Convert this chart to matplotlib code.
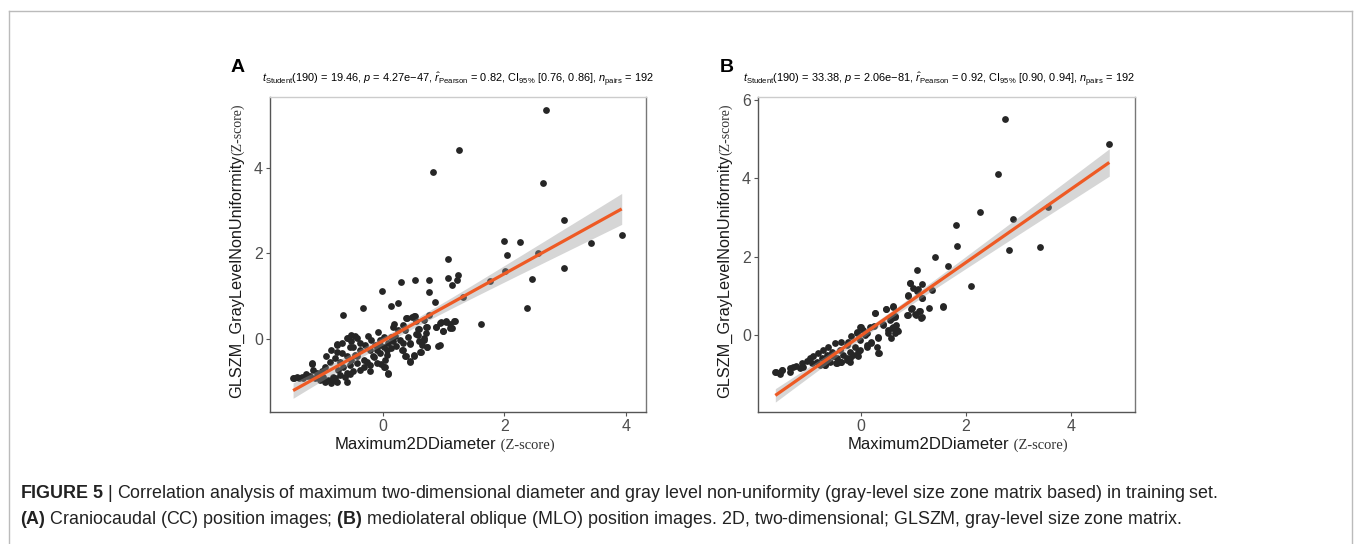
"""Figure 5: correlation of Maximum2DDiameter and GLSZM GrayLevelNonUniformity
(training set), CC panel (A) and MLO panel (B), with a linear fit + 95% band.
"""

import matplotlib

matplotlib.use("Agg")
import matplotlib.pyplot as plt
import numpy as np

plt.rcParams["font.family"] = ["Liberation Sans", "DejaVu Sans"]
plt.rcParams["mathtext.fontset"] = "custom"
plt.rcParams["mathtext.rm"] = "Liberation Sans"
plt.rcParams["mathtext.it"] = "Liberation Sans:italic"
plt.rcParams["mathtext.bf"] = "Liberation Sans:bold"

W, H = 1357, 544

# (x, y) z-scores, panel A (CC)
cc_points = [
    (2.69, 5.36), (1.25, 4.42), (0.82, 3.91), (2.64, 3.65), (2.98, 2.78),
    (3.93, 2.43), (3.42, 2.24), (1.99, 2.28), (2.25, 2.27), (2.04, 1.97),
    (2.55, 2.02), (2.98, 1.66), (2.01, 1.60), (1.07, 1.88), (1.23, 1.50),
    (1.07, 1.42), (1.22, 1.39), (1.13, 1.25), (1.77, 1.35), (2.45, 1.40),
    (2.37, 0.73), (1.62, 0.35), (1.31, 0.99), (-0.01, 1.13), (0.30, 1.32),
    (0.53, 1.38), (0.75, 1.39), (0.76, 1.10), (0.86, 0.87), (0.24, 0.85),
    (0.13, 0.77), (-0.33, 0.72), (-0.65, 0.57), (0.76, 0.57), (0.51, 0.53),
    (0.38, 0.48), (0.68, 0.44), (0.18, 0.35), (0.16, 0.27), (0.54, 0.42),
    (0.57, 0.24), (0.70, 0.27), (0.88, 0.28), (0.96, 0.39), (1.04, 0.39),
    (0.99, 0.19), (1.11, 0.26), (1.17, 0.43), (0.91, -0.16), (0.73, -0.20),
    (0.63, -0.31), (0.51, -0.39), (0.45, -0.54), (0.37, -0.40), (0.33, -0.27),
    (0.45, -0.13), (0.68, 0.01), (0.58, 0.09), (0.59, -0.05), (0.09, -0.81),
    (0.04, -0.66), (-0.03, -0.58), (-0.14, -0.43), (-0.46, 0.06), (-0.58, 0.01),
    (-0.52, -0.05), (-0.76, -0.13), (-1.17, -0.58), (-1.46, -0.92), (-1.39, -0.92),
    (-1.32, -0.91), (-1.25, -0.87),
    (0.94, 0.37), (1.03, 0.43), (1.10, 0.34), (1.19, 0.43), (1.13, 0.25),
    (0.99, 0.19), (0.87, 0.29), (0.72, 0.27), (0.70, 0.13), (0.60, 0.24),
    (0.55, 0.12), (0.67, -0.02), (0.64, -0.14), (0.73, -0.18), (0.94, -0.14),
    (0.61, -0.30), (0.51, -0.37), (0.44, -0.51), (0.38, -0.41), (0.31, -0.26),
    (0.44, -0.10), (0.33, -0.10), (0.22, -0.16), (0.17, -0.06), (0.20, 0.07),
    (0.25, 0.21), (0.33, 0.33), (0.39, 0.48), (0.47, 0.52), (0.53, 0.54),
    (0.09, -0.80), (0.01, -0.65), (-0.10, -0.57), (0.03, -0.49), (0.06, -0.37),
    (-0.05, -0.34), (-0.16, -0.41), (-0.21, -0.61), (-0.27, -0.53), (-0.38, -0.73),
    (-0.49, -0.76), (-0.54, -0.82), (-0.63, -0.88), (-0.71, -0.84), (-0.79, -0.92),
    (-0.82, -0.97), (-0.74, -0.73), (-0.65, -0.65), (-0.54, -0.61), (-0.43, -0.57),
    (-0.32, -0.49), (-0.21, -0.26), (-0.13, -0.14), (-0.05, -0.02), (0.01, 0.05),
    (0.09, -0.10), (0.14, -0.22), (-0.19, -0.02), (-0.30, -0.14), (-0.38, -0.26),
    (-0.46, -0.37), (-0.52, -0.49), (-0.60, -0.41), (-0.68, -0.34), (-0.76, -0.30),
    (-0.79, -0.45), (-0.87, -0.53), (-0.93, -0.40), (-0.85, -0.26), (-0.76, -0.14),
    (-0.68, -0.10), (-0.60, 0.02), (-0.52, 0.09), (-0.43, 0.02), (-0.95, -0.65),
    (-1.01, -0.76), (-0.98, -0.88), (-1.09, -0.80), (-1.15, -0.73), (-1.17, -0.57),
    (-1.26, -0.82), (-1.34, -0.88), (-1.42, -0.90), (-1.48, -0.92), (-0.90, -0.96),
    (-0.76, -1.00), (-0.60, -1.00), (-0.85, -1.02), (-1.04, -0.96), (-0.95, -1.00),
    (-1.20, -0.87), (-1.12, -0.92), (-0.38, -0.10), (-0.24, 0.07), (-0.08, 0.17),
    (-0.54, -0.18), (-0.82, -0.88), (-0.49, -0.18), (-0.71, -0.53), (-0.43, -0.41),
    (-0.60, -0.80), (-0.32, -0.65), (-0.21, -0.76), (-0.10, -0.26), (0.01, -0.18),
    (0.14, 0.05), (0.28, -0.02), (0.36, 0.21), (0.42, 0.04), (0.06, -0.27),
    (-0.05, -0.14),
]

# (x, y) z-scores, panel B (MLO)
mlo_points = [
    (2.74, 5.53), (4.73, 4.89), (2.61, 4.10), (2.27, 3.13), (2.89, 2.96),
    (3.57, 3.26), (1.81, 2.81), (1.83, 2.26), (2.82, 2.16), (3.41, 2.25),
    (1.42, 2.00), (1.66, 1.77), (2.10, 1.25), (1.06, 1.67), (1.57, 0.72),
    (1.29, 0.70), (0.94, 1.32), (1.17, 1.29), (1.08, 1.17), (1.35, 1.15),
    (0.89, 1.00), (0.96, 0.66), (1.15, 0.44), (1.04, 0.50), (1.11, 0.60),
    (0.90, 0.50), (1.17, 0.94), (0.61, 0.74), (0.47, 0.67), (0.27, 0.55),
    (0.65, 0.49), (0.59, 0.43), (0.43, 0.27), (0.66, 0.25), (0.60, 0.17),
    (0.70, 0.11), (0.52, 0.04), (0.57, -0.09), (0.32, -0.06), (0.20, -0.19),
    (0.11, -0.30), (0.34, -0.47), (0.24, 0.24), (0.00, 0.21), (-0.08, 0.08),
    (0.07, 0.00), (-0.06, -0.43), (-0.20, -0.60), (-0.05, -0.55), (-1.63, -0.96),
    (-1.51, -0.89), (-1.36, -0.94), (-1.55, -1.00), (-0.69, -0.77), (-0.48, -0.72),
    (-0.37, -0.68), (-0.27, -0.64),
    (0.93, 1.32), (1.00, 1.19), (1.06, 1.12), (0.90, 1.02), (1.17, 0.94),
    (1.56, 0.74), (0.97, 0.68), (0.87, 0.51), (1.03, 0.54), (1.16, 0.45),
    (1.12, 0.61), (0.27, 0.55), (0.48, 0.66), (0.62, 0.72), (0.65, 0.47),
    (0.55, 0.38), (0.43, 0.26), (0.62, 0.21), (0.68, 0.13), (0.65, 0.04),
    (0.52, 0.13), (0.33, -0.09), (0.20, -0.21), (0.30, -0.30), (0.11, -0.26),
    (0.33, -0.47), (-0.02, 0.21), (0.04, 0.13), (-0.08, 0.04), (0.17, 0.21),
    (0.11, 0.04), (-0.18, -0.04), (-0.24, -0.17), (-0.02, -0.13), (-0.11, -0.30),
    (-0.21, -0.43), (-0.34, -0.51), (-0.40, -0.38), (-0.46, -0.60), (-0.45, -0.72),
    (-0.37, -0.68), (-0.56, -0.43), (-0.65, -0.51), (-0.69, -0.77), (-0.59, -0.68),
    (-0.27, -0.26), (-0.37, -0.17), (-0.50, -0.21), (-0.62, -0.30), (-0.72, -0.38),
    (-0.81, -0.47), (-0.91, -0.54), (-0.97, -0.60), (-1.03, -0.66), (-1.13, -0.72),
    (-1.23, -0.79), (-1.29, -0.83), (-1.35, -0.85), (-1.51, -0.89), (-1.61, -0.95),
    (-0.75, -0.60), (-0.84, -0.68), (-0.94, -0.72), (-1.10, -0.81), (-1.16, -0.85),
    (-0.78, -0.77), (-0.65, -0.64), (-0.53, -0.55), (-0.27, -0.60), (-0.15, -0.51),
    (-0.02, -0.38), (-0.21, -0.68),
]

TICKS_A_X = [0, 2, 4]
TICKS_A_Y = [0, 2, 4]
TICKS_B_X = [0, 2, 4]
TICKS_B_Y = [0, 2, 4, 6]

SUB_A = (r"$t_{\mathrm{Student}}$(190) = 19.46, $p$ = 4.27e−47, "
         r"$\hat{r}_{\mathrm{Pearson}}$ = 0.82, CI$_{95\%}$ [0.76, 0.86], "
         r"$n_{\mathrm{pairs}}$ = 192")
SUB_B = (r"$t_{\mathrm{Student}}$(190) = 33.38, $p$ = 2.06e−81, "
         r"$\hat{r}_{\mathrm{Pearson}}$ = 0.92, CI$_{95\%}$ [0.90, 0.94], "
         r"$n_{\mathrm{pairs}}$ = 192")

CAPTION_1 = (r"$\mathbf{FIGURE\ 5}$ | Correlation analysis of maximum two-dimensional "
             "diameter and gray level non-uniformity (gray-level size zone matrix "
             "based) in training set.")
CAPTION_2 = (r"$\mathbf{(A)}$ Craniocaudal (CC) position images; $\mathbf{(B)}$ "
             "mediolateral oblique (MLO) position images. 2D, two-dimensional; "
             "GLSZM, gray-level size zone matrix.")


def fx(px):
    return px / W


def fy(py):
    return 1 - py / H


def fit_band(x, y, t=1.97):
    slope, intercept = np.polyfit(x, y, 1)
    xs = np.linspace(x.min(), x.max(), 100)
    yhat = intercept + slope * xs
    resid = y - (intercept + slope * x)
    n = len(x)
    s = np.sqrt(np.sum(resid ** 2) / (n - 2))
    sxx = np.sum((x - x.mean()) ** 2)
    se = s * np.sqrt(1.0 / n + (xs - x.mean()) ** 2 / sxx)
    return xs, yhat, yhat - t * se, yhat + t * se


def panel(ax, pts, xlim, ylim, xticks, yticks):
    pts = np.array(pts)
    x, y = pts[:, 0], pts[:, 1]
    ax.scatter(x, y, s=24, color="#262626", linewidths=0, zorder=2)
    xs, yhat, lo, hi = fit_band(x, y)
    ax.fill_between(xs, lo, hi, color="#999999", alpha=0.4, linewidth=0, zorder=3)
    ax.plot(xs, yhat, color="#ee5a24", lw=2.3, zorder=4, solid_capstyle="butt")

    ax.set_xlim(*xlim)
    ax.set_ylim(*ylim)
    ax.set_xticks(xticks)
    ax.set_yticks(yticks)
    for side in ("left", "bottom"):
        ax.spines[side].set_color("#555555")
    ax.spines["right"].set_color("#777777")
    ax.spines["top"].set_color("#cccccc")
    for sp in ax.spines.values():
        sp.set_linewidth(1.0)
    ax.tick_params(length=3, width=0.8, color="#555555", labelcolor="#4d4d4d",
                   labelsize=11.5, pad=2)


fig = plt.figure(figsize=(W / 100, H / 100), dpi=100)

ax_a = fig.add_axes([fx(270), fy(412), (646 - 270) / W, (412 - 97) / H])
ax_b = fig.add_axes([fx(758), fy(412), (1135 - 758) / W, (412 - 97) / H])

panel(ax_a, cc_points, (-1.86, 4.33), (-1.71, 5.66), TICKS_A_X, TICKS_A_Y)
panel(ax_b, mlo_points, (-1.96, 5.22), (-1.97, 6.08), TICKS_B_X, TICKS_B_Y)

# panel letters and stat subtitles
fig.text(fx(231), fy(67), "A", fontsize=14, fontweight="bold", va="center")
fig.text(fx(720), fy(67), "B", fontsize=14, fontweight="bold", va="center")
fig.text(fx(262), fy(83), SUB_A, fontsize=7.9, va="baseline")
fig.text(fx(743), fy(83), SUB_B, fontsize=7.9, va="baseline")

# axis labels: sans name + serif "(Z-score)"
for x0, ylab_x in ((335, 237), (848, 725)):
    t1 = fig.text(fx(x0), fy(449), "Maximum2DDiameter", fontsize=12,
                  ha="left", va="baseline", color="#1a1a1a")
    ax_a.annotate(" (Z-score)", xy=(1, 0), xycoords=t1, ha="left", va="bottom",
                  fontsize=10.5, family="Liberation Serif", color="#333333",
                  annotation_clip=False)
    t2 = fig.text(fx(ylab_x), fy(398), "GLSZM_GrayLevelNonUniformity", fontsize=11.7,
                  rotation=90, ha="center", va="bottom", color="#1a1a1a")
    ax_a.annotate("(Z-score)", xy=(1, 1), xycoords=t2, ha="right", va="bottom",
                  rotation=90, fontsize=10, family="Liberation Serif",
                  color="#333333", annotation_clip=False)

# caption
fig.text(fx(20), fy(494), CAPTION_1, fontsize=12.9, color="#222222", va="center")
fig.text(fx(20), fy(519), CAPTION_2, fontsize=12.9, color="#222222", va="center")

# light frame around the figure, open at the bottom
frame = dict(color="#bbbbbb", lw=1.0, transform=fig.transFigure)
fig.add_artist(plt.Line2D([fx(9), fx(9)], [0, fy(11)], **frame))
fig.add_artist(plt.Line2D([fx(9), fx(1352)], [fy(11), fy(11)], **frame))
fig.add_artist(plt.Line2D([fx(1352), fx(1352)], [0, fy(11)], **frame))

fig.savefig("out.png", dpi=100)
